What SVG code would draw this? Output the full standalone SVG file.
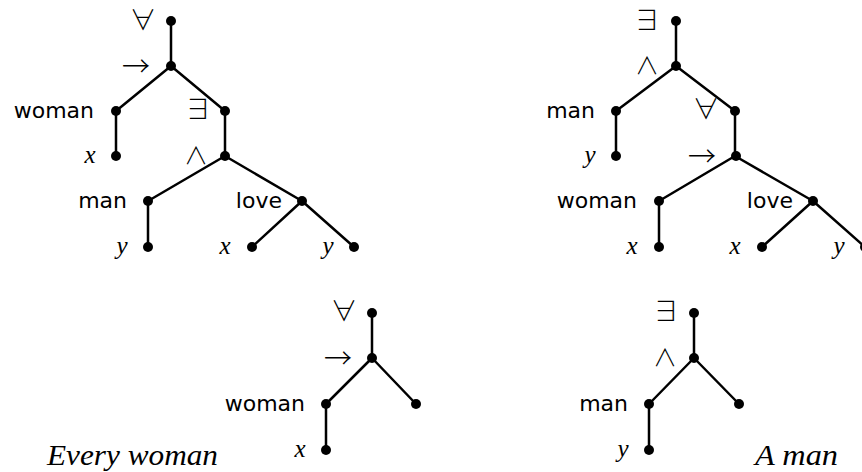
<svg xmlns="http://www.w3.org/2000/svg" width="862" height="472" viewBox="0 0 862 472">
<style>
.e{stroke:#000;stroke-width:2.5;fill:none;stroke-linecap:round}
.d{fill:#000}
.w{font-family:"DejaVu Sans",sans-serif;font-size:22px;fill:#000;text-anchor:end}
.v{font-family:"Liberation Serif",serif;font-style:italic;font-size:25px;fill:#000;text-anchor:middle}
.s{font-family:"Noto Sans CJK JP","DejaVu Sans",sans-serif;font-size:27px;fill:#000;text-anchor:middle;font-weight:300}
.n{font-family:"Noto Sans CJK JP","DejaVu Sans",sans-serif;font-size:24px;fill:#000;text-anchor:middle;font-weight:300}
.a{font-family:"Noto Sans CJK JP","DejaVu Sans",sans-serif;font-size:28px;fill:#000;text-anchor:middle;font-weight:300}
.c{font-family:"Liberation Serif",serif;font-style:italic;font-size:29px;fill:#000}
</style>
<g id="connectors">
<path class="e" d="M171 21V66M171 66L116 111M171 66L225 111M116 111V156M225 111V156M225 156L148 201M225 156L302 201M148 201V247M302 201L252 247M302 201L354 247"/>
<path class="e" d="M676 21V66M676 66L616 111M676 66L735 111M616 111V156M735 111V156M735 156L659 201M735 156L813 201M659 201V247M813 201L762 247M813 201L865 247"/>
<path class="e" d="M372 313V358M372 358L326 404M372 358L416 404M326 404V450"/>
<path class="e" d="M694 313V358M694 358L649 404M694 358L739 404M649 404V450"/>
</g>
<g id="left-tree">
<g id="L-forall"><circle class="d" cx="171" cy="21" r="5"/><text class="s" x="143" y="30">∀</text></g>
<g id="L-imp"><circle class="d" cx="171" cy="66" r="5"/><text class="a" x="136" y="77">→</text></g>
<g id="L-woman"><circle class="d" cx="116" cy="111" r="5"/><text class="w" x="94" y="118">woman</text></g>
<g id="L-exists"><circle class="d" cx="225" cy="111" r="5"/><text class="s" x="198" y="119">∃</text></g>
<g id="L-x1"><circle class="d" cx="116" cy="156" r="5"/><text class="v" x="90" y="163">x</text></g>
<g id="L-and"><circle class="d" cx="225" cy="156" r="5"/><text class="n" x="196" y="164">∧</text></g>
<g id="L-man"><circle class="d" cx="148" cy="201" r="5"/><text class="w" x="127" y="208">man</text></g>
<g id="L-love"><circle class="d" cx="302" cy="201" r="5"/><text class="w" x="282" y="208">love</text></g>
<g id="L-y1"><circle class="d" cx="148" cy="247" r="5"/><text class="v" x="122" y="254">y</text></g>
<g id="L-x2"><circle class="d" cx="252" cy="247" r="5"/><text class="v" x="225" y="254">x</text></g>
<g id="L-y2"><circle class="d" cx="354" cy="247" r="5"/><text class="v" x="328" y="254">y</text></g>
</g>
<g id="right-tree">
<g id="R-exists"><circle class="d" cx="676" cy="21" r="5"/><text class="s" x="647" y="30">∃</text></g>
<g id="R-and"><circle class="d" cx="676" cy="66" r="5"/><text class="n" x="647" y="74">∧</text></g>
<g id="R-man"><circle class="d" cx="616" cy="111" r="5"/><text class="w" x="595" y="118">man</text></g>
<g id="R-forall"><circle class="d" cx="735" cy="111" r="5"/><text class="s" x="706" y="119">∀</text></g>
<g id="R-y1"><circle class="d" cx="616" cy="156" r="5"/><text class="v" x="590" y="163">y</text></g>
<g id="R-imp"><circle class="d" cx="736" cy="156" r="5"/><text class="a" x="702" y="167">→</text></g>
<g id="R-woman"><circle class="d" cx="659" cy="201" r="5"/><text class="w" x="637" y="208">woman</text></g>
<g id="R-love"><circle class="d" cx="813" cy="201" r="5"/><text class="w" x="793" y="208">love</text></g>
<g id="R-x1"><circle class="d" cx="659" cy="247" r="5"/><text class="v" x="632" y="254">x</text></g>
<g id="R-x2"><circle class="d" cx="762" cy="247" r="5"/><text class="v" x="735" y="254">x</text></g>
<g id="R-y2"><circle class="d" cx="865" cy="247" r="5"/><text class="v" x="839" y="254">y</text></g>
</g>
<g id="bottom-left-tree">
<g id="BL-forall"><circle class="d" cx="372" cy="313" r="5"/><text class="s" x="344" y="321">∀</text></g>
<g id="BL-imp"><circle class="d" cx="372" cy="358" r="5"/><text class="a" x="338" y="369">→</text></g>
<g id="BL-woman"><circle class="d" cx="326" cy="404" r="5"/><text class="w" x="305" y="411">woman</text></g>
<g id="BL-right"><circle class="d" cx="416" cy="404" r="5"/></g>
<g id="BL-x"><circle class="d" cx="326" cy="450" r="5"/><text class="v" x="300" y="457">x</text></g>
</g>
<g id="bottom-right-tree">
<g id="BR-exists"><circle class="d" cx="694" cy="313" r="5"/><text class="s" x="666" y="321">∃</text></g>
<g id="BR-and"><circle class="d" cx="694" cy="358" r="5"/><text class="n" x="665" y="366">∧</text></g>
<g id="BR-man"><circle class="d" cx="649" cy="404" r="5"/><text class="w" x="628" y="411">man</text></g>
<g id="BR-right"><circle class="d" cx="739" cy="404" r="5"/></g>
<g id="BR-y"><circle class="d" cx="649" cy="450" r="5"/><text class="v" x="623" y="457">y</text></g>
</g>
<text class="c" x="47" y="465" textLength="171" lengthAdjust="spacingAndGlyphs">Every woman</text>
<text class="c" x="755" y="465" textLength="83" lengthAdjust="spacingAndGlyphs">A man</text>
</svg>
